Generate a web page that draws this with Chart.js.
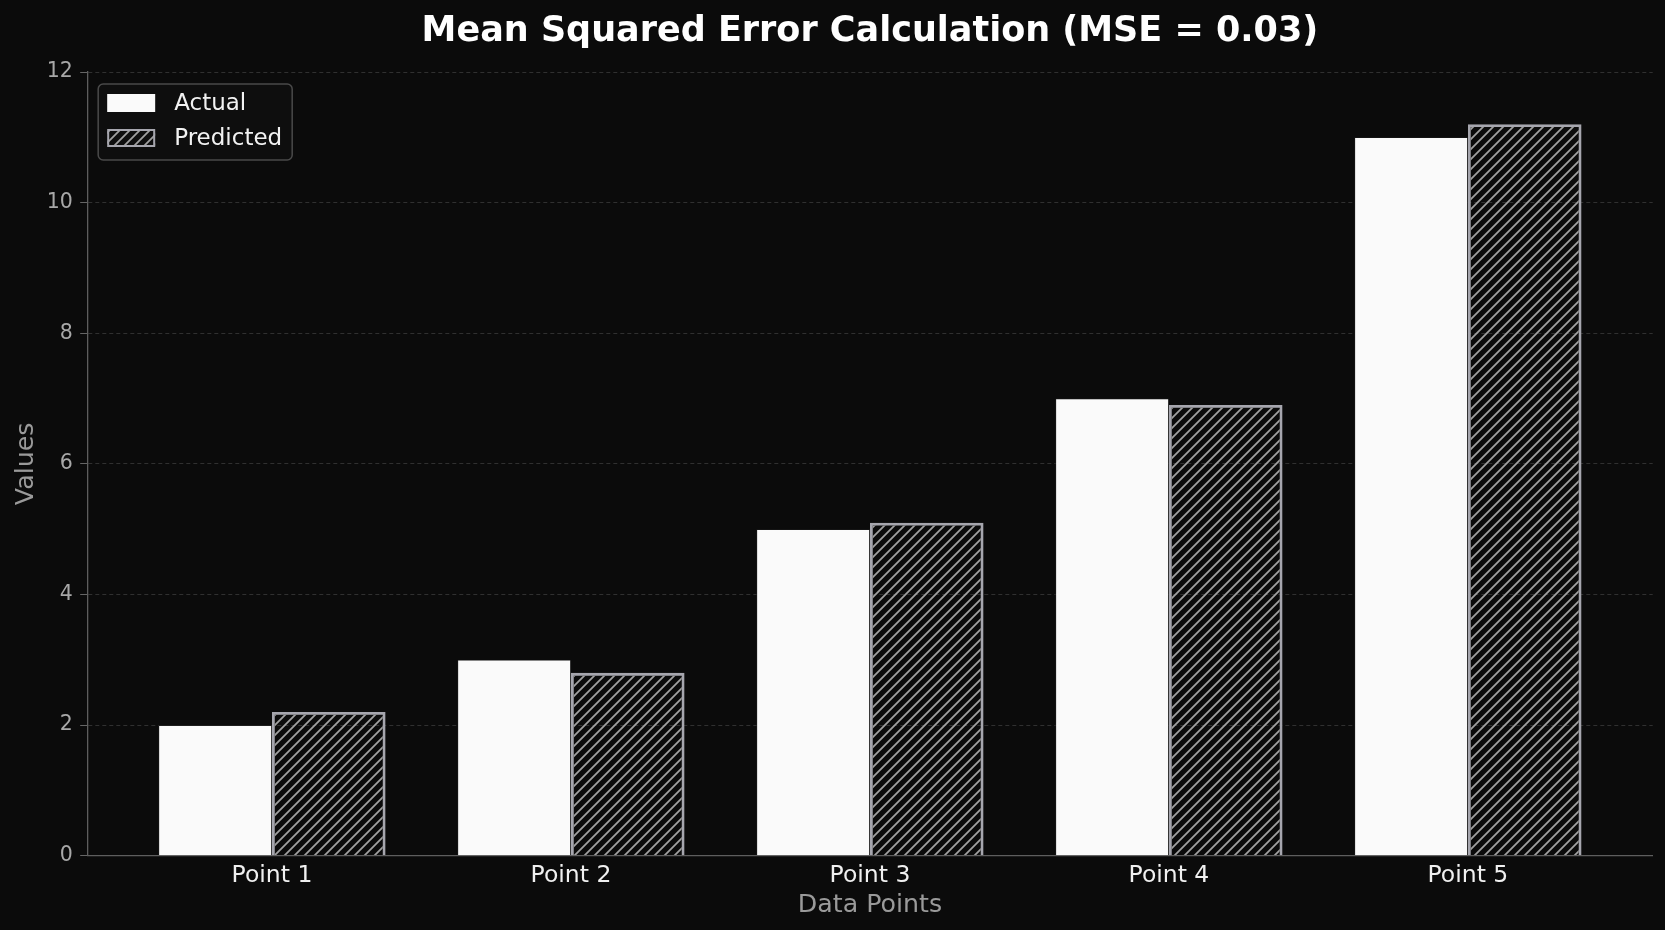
<!DOCTYPE html>
<html>
<head>
<meta charset="utf-8">
<script src="https://cdn.jsdelivr.net/npm/chart.js@4.4.1/dist/chart.umd.min.js"></script>
<style>
    html, body { margin: 0; padding: 0; background: #0b0b0b; }
    #wrap { width: 1665px; height: 930px; position: relative; }
</style>
</head>
<body>
<div id="wrap"><canvas id="mseChart"></canvas></div>
<script>
var categories = ['Point 1', 'Point 2', 'Point 3', 'Point 4', 'Point 5'];
var actualValues = [2, 3, 5, 7, 11];
var predictedValues = [2.2, 2.8, 5.1, 6.9, 11.2];
var seriesNames = ['Actual', 'Predicted'];
var yTicks = [0, 2, 4, 6, 8, 10, 12];

(function () {
    var FONT = '"DejaVu Sans", "Liberation Sans", sans-serif';
    var BAR_W = 0.38;
    var X_MARGIN = 0.05 * (categories.length - 1 + 2 * BAR_W);

    function toPoints(values) {
        return values.map(function (v, i) { return { x: i, y: v }; });
    }

    function meanSquaredError(a, b) {
        var sum = 0;
        for (var i = 0; i < a.length; i++) {
            sum += Math.pow(a[i] - b[i], 2);
        }
        return sum / a.length;
    }

    function makeHatch(color, step) {
        var c = document.createElement('canvas');
        c.width = step;
        c.height = step;
        var g = c.getContext('2d');
        g.strokeStyle = color;
        g.lineWidth = 1.8;
        g.beginPath();
        g.moveTo(0, step); g.lineTo(step, 0);
        g.moveTo(-step / 2, step / 2); g.lineTo(step / 2, -step / 2);
        g.moveTo(step / 2, step * 1.5); g.lineTo(step * 1.5, step / 2);
        g.stroke();
        return g.createPattern(c, 'repeat');
    }

    // legend sits inside the plot, top left, with a rounded frame
    var insideLegend = {
        id: 'insideLegend',
        afterDatasetsDraw: function (chart) {
            var ctx = chart.ctx;
            var area = chart.chartArea;
            var x = area.left + 11, y = area.top + 12, w = 194, h = 76;
            ctx.save();
            ctx.beginPath();
            ctx.roundRect(x, y, w, h, 5);
            ctx.fillStyle = 'rgba(14,14,14,0.9)';
            ctx.fill();
            ctx.lineWidth = 1.5;
            ctx.strokeStyle = '#4a4a4a';
            ctx.stroke();
            chart.data.datasets.forEach(function (ds, i) {
                var sx = x + 9, sy = y + 10 + i * 35;
                ctx.fillStyle = ds.backgroundColor;
                ctx.fillRect(sx, sy, 48, 18);
                if (ds.borderWidth > 1) {
                    ctx.lineWidth = 2;
                    ctx.strokeStyle = ds.borderColor;
                    ctx.strokeRect(sx + 1, sy + 1, 46, 16);
                }
                ctx.fillStyle = '#f2f2f2';
                ctx.font = '23px ' + FONT;
                ctx.textBaseline = 'middle';
                ctx.fillText(ds.label, x + 76, sy + 10);
            });
            ctx.restore();
        }
    };

    var mse = meanSquaredError(actualValues, predictedValues);

    new Chart(document.getElementById('mseChart'), {
        type: 'bar',
        data: {
            datasets: [
                {
                    label: seriesNames[0],
                    data: toPoints(actualValues),
                    backgroundColor: '#fafafa',
                    borderColor: '#1e1e1e',
                    borderWidth: 0.8,
                    categoryPercentage: BAR_W * 2,
                    barPercentage: 1
                },
                {
                    label: seriesNames[1],
                    data: toPoints(predictedValues),
                    backgroundColor: makeHatch('#a0a0a0', 10),
                    borderColor: '#a6a6ae',
                    borderWidth: 2.8,
                    categoryPercentage: BAR_W * 2,
                    barPercentage: 1
                }
            ]
        },
        options: {
            responsive: true,
            maintainAspectRatio: false,
            animation: false,
            layout: { padding: { left: 10, right: 12.3, top: 0, bottom: 4.5 } },
            plugins: {
                legend: { display: false },
                tooltip: { enabled: false },
                title: {
                    display: true,
                    fullSize: false,
                    text: 'Mean Squared Error Calculation (MSE = ' + mse.toFixed(2) + ')',
                    color: '#ffffff',
                    font: { family: FONT, size: 35, weight: 'bold' },
                    padding: { top: 11, bottom: 19 }
                }
            },
            scales: {
                x: {
                    type: 'linear',
                    min: -BAR_W - X_MARGIN,
                    max: categories.length - 1 + BAR_W + X_MARGIN,
                    offset: false,
                    afterBuildTicks: function (scale) {
                        scale.ticks = categories.map(function (c, i) { return { value: i }; });
                    },
                    ticks: {
                        callback: function (value) { return categories[Math.round(value)]; },
                        color: '#f0f0f0',
                        font: { family: FONT, size: 23.5, lineHeight: 1 },
                        padding: 8,
                        autoSkip: false,
                        maxRotation: 0
                    },
                    grid: { display: false, drawTicks: false },
                    border: { display: true, color: '#5e5e5e', width: 1.3 },
                    title: {
                        display: true,
                        text: 'Data Points',
                        color: '#9a9a9a',
                        font: { family: FONT, size: 25.3, lineHeight: 1 },
                        padding: { top: -2.5, bottom: 7.5 }
                    }
                },
                y: {
                    min: 0,
                    max: 12,
                    afterBuildTicks: function (scale) {
                        scale.ticks = yTicks.map(function (v) { return { value: v }; });
                    },
                    grid: {
                        color: function (c) {
                            return c.tick && c.tick.value === 0 ? 'rgba(0,0,0,0)' : '#303030';
                        },
                        lineWidth: 1,
                        tickLength: 7,
                        tickColor: '#666666'
                    },
                    border: { display: true, color: '#5e5e5e', width: 1.3, dash: [4, 3] },
                    ticks: {
                        color: '#a8a8a8',
                        font: { family: FONT, size: 20.5 },
                        padding: 7.4
                    },
                    title: {
                        display: true,
                        text: 'Values',
                        color: '#9a9a9a',
                        font: { family: FONT, size: 25.3, lineHeight: 1 },
                        padding: { top: 4, bottom: 0 }
                    }
                }
            }
        },
        plugins: [insideLegend]
    });
})();
</script>
</body>
</html>
